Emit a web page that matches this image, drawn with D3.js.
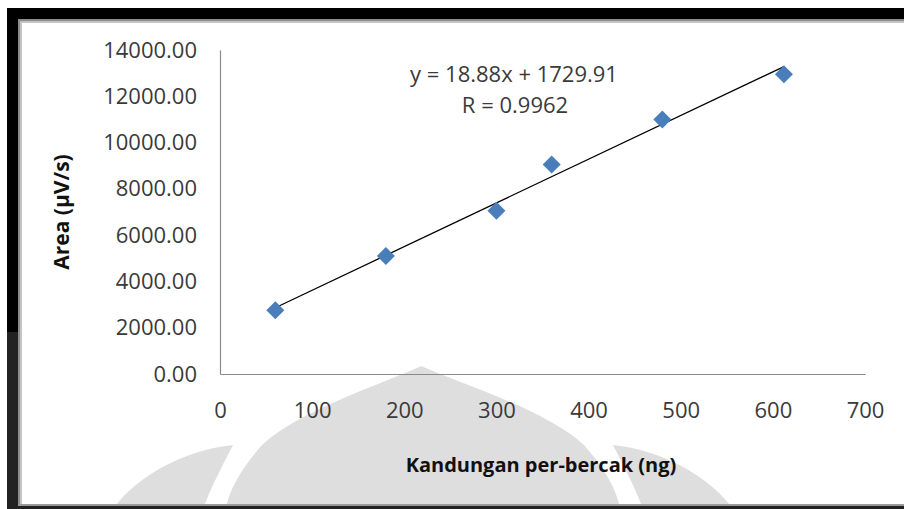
<!DOCTYPE html>
<html>
<head>
<meta charset="utf-8">
<script src="https://cdn.jsdelivr.net/npm/d3@7"></script>
<style>
  body { margin: 0; background: #fff; }
  svg { display: block; }
  text { font-family: "Open Sans", sans-serif; }
</style>
</head>
<body>
<div id="chart"></div>
<script>
// data
let concentration = [60, 180, 300, 360, 480, 612];
let area = [2750, 5100, 7050, 9050, 11000, 12950];
let xTicks = [0, 100, 200, 300, 400, 500, 600, 700];
let yTicks = [0, 2000, 4000, 6000, 8000, 10000, 12000, 14000];
let slope = 18.88;
let intercept = 1729.91;
let rValue = 0.9962;

let width = 904;
let height = 509;

let svg = d3.select("#chart")
            .append("svg")
            .attr("width", width)
            .attr("height", height)

// frame of the screenshot
svg.append("rect").attr("x", 7).attr("y", 8).attr("width", width - 7).attr("height", 11).attr("fill", "#000")
svg.append("rect").attr("x", 7).attr("y", 8).attr("width", 11).attr("height", 324).attr("fill", "#000")
svg.append("rect").attr("x", 7).attr("y", 332).attr("width", 11).attr("height", height - 332).attr("fill", "#222")
svg.append("rect").attr("x", 7).attr("y", 506).attr("width", width - 7).attr("height", 3).attr("fill", "#222")
svg.append("rect").attr("x", 18).attr("y", 19).attr("width", width - 18).attr("height", 2).attr("fill", "#8c8c8c")
svg.append("rect").attr("x", 18).attr("y", 21).attr("width", width - 18).attr("height", 2).attr("fill", "#c4c4c4")
svg.append("rect").attr("x", 18).attr("y", 19).attr("width", 2).attr("height", 487).attr("fill", "#8c8c8c")
svg.append("rect").attr("x", 20).attr("y", 21).attr("width", 2).attr("height", 485).attr("fill", "#c4c4c4")
svg.append("rect").attr("x", 18).attr("y", 504).attr("width", width - 18).attr("height", 2).attr("fill", "#9a9a9a")

// watermark behind the chart
let mark = svg.append("g").attr("fill", "#dedede")
mark.append("path").attr("d", "M421,366 C380,385 300,410 262,445 C240,470 230,490 227,504 L619,504 C616,490 606,470 584,445 C546,410 464,385 421,366 Z")
mark.append("path").attr("d", "M117,504 C140,475 185,450 233,445 C220,470 210,490 205,504 Z")
mark.append("path").attr("d", "M729,504 C706,475 661,450 613,445 C626,470 636,490 641,504 Z")

let xScale = d3.scaleLinear().domain([0, 700]).range([220, 865])
let yScale = d3.scaleLinear().domain([0, 14000]).range([374, 50])

let xAxis = d3.axisBottom(xScale).tickValues(xTicks).tickSize(0).tickPadding(28).tickFormat(d3.format("d"))
let yAxis = d3.axisLeft(yScale).tickValues(yTicks).tickSize(0).tickPadding(23).tickFormat(d3.format(".2f"))

svg.append("g").attr("class", "xAxis")
    .attr("transform", `translate(0, ${yScale(0)})`)
    .call(xAxis)

svg.append("g").attr("class", "yAxis")
    .attr("transform", `translate(${xScale(0)}, 0)`)
    .call(yAxis)

svg.selectAll(".xAxis path, .yAxis path").attr("stroke", "#8a8a8a").attr("stroke-width", 1.2)
svg.selectAll(".xAxis text, .yAxis text")
    .attr("font-family", "Open Sans, sans-serif")
    .attr("font-size", 22)
    .attr("fill", "#3a3a3a")

// trend line
let xMin = d3.min(concentration)
let xMax = d3.max(concentration)
svg.append("line")
    .attr("x1", xScale(xMin)).attr("y1", yScale(slope * xMin + intercept))
    .attr("x2", xScale(xMax)).attr("y2", yScale(slope * xMax + intercept))
    .attr("stroke", "#000")
    .attr("stroke-width", 1.3)

// diamond markers
let points = concentration.map(function(c, i){ return {x: c, y: area[i]} })
svg.selectAll("path.dot").data(points).enter()
    .append("path")
    .attr("class", "dot")
    .attr("d", "M0,-9 L9,0 L0,9 L-9,0 Z")
    .attr("transform", function(d){ return `translate(${xScale(d.x)}, ${yScale(d.y)})` })
    .attr("fill", "#4a7ebb")

// equation label
svg.append("text")
    .attr("x", 514).attr("y", 82)
    .attr("text-anchor", "middle")
    .attr("font-size", 22)
    .attr("fill", "#3a3a3a")
    .text(`y = ${slope.toFixed(2)}x + ${intercept.toFixed(2)}`)

svg.append("text")
    .attr("x", 515).attr("y", 113)
    .attr("text-anchor", "middle")
    .attr("font-size", 22)
    .attr("fill", "#3a3a3a")
    .text(`R = ${rValue.toFixed(4)}`)

// axis titles
svg.append("text")
    .attr("x", 541).attr("y", 472)
    .attr("text-anchor", "middle")
    .attr("font-size", 20)
    .attr("font-weight", "bold")
    .attr("fill", "#111")
    .text("Kandungan per-bercak (ng)")

svg.append("text")
    .attr("transform", "translate(69, 212) rotate(-90)")
    .attr("text-anchor", "middle")
    .attr("font-size", 21)
    .attr("font-weight", "bold")
    .attr("fill", "#111")
    .text("Area (µV/s)")
</script>
</body>
</html>
